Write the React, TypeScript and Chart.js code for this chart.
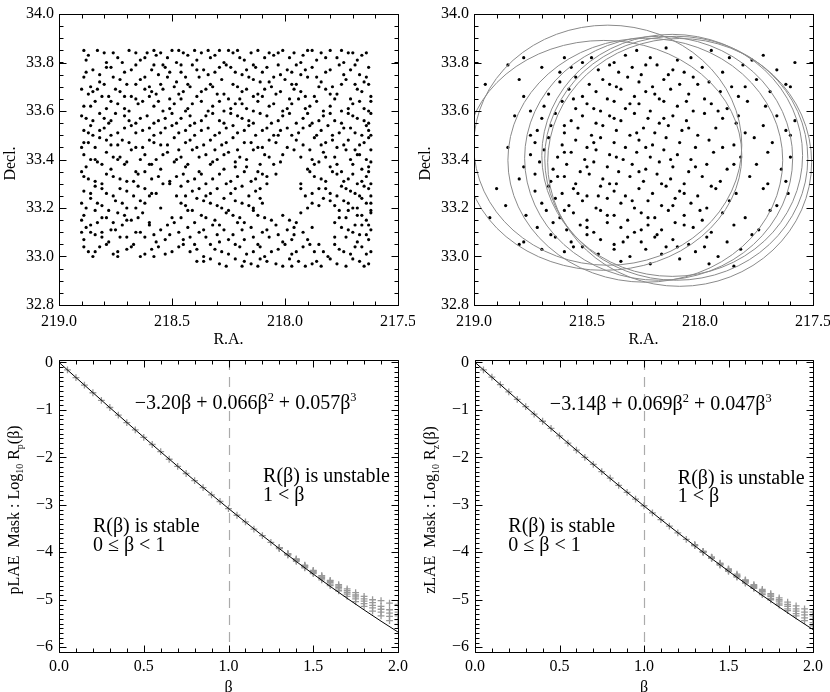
import React, { useEffect, useRef } from "react";
import { Chart, registerables } from "chart.js";
Chart.register(...registerables);

const SERIF = '"Liberation Serif", "Times New Roman", Times, serif';

// ---------- tick labels ----------
const raTicks = [219.0, 218.5, 218.0, 217.5];
const decTicks = [32.8, 33.0, 33.2, 33.4, 33.6, 33.8, 34.0];
const betaTicks = [0, 0.5, 1.0, 1.5, 2.0];
const logTicks = [-6, -5, -4, -3, -2, -1, 0];

// ---------- top-left: all sources (R.A., Decl.) pairs ----------
const fieldSources = [
  218.89,33.85, 218.80,33.84, 218.76,33.84, 218.69,33.85, 218.61,33.84, 218.58,33.85, 218.55,33.84, 218.50,33.85, 218.47,33.85, 218.45,33.84, 218.40,33.85, 218.37,33.84, 218.29,33.85, 218.23,33.84, 218.21,33.85, 218.15,33.84, 218.07,33.84, 218.01,33.85, 217.96,33.84, 217.90,33.85, 217.84,33.84, 217.80,33.85, 217.72,33.84, 217.70,33.84,
  218.88,33.81, 218.62,33.82, 218.48,33.80, 218.33,33.82, 218.18,33.81, 218.05,33.83, 217.93,33.80, 217.77,33.82, 217.66,33.83, 218.72,33.80, 218.26,33.79, 217.86,33.81,
  218.85,33.77, 218.79,33.78, 218.71,33.76, 218.66,33.79, 218.59,33.77, 218.53,33.78, 218.46,33.76, 218.41,33.79, 218.36,33.77, 218.31,33.76, 218.24,33.78, 218.19,33.75, 218.13,33.78, 218.10,33.76, 218.03,33.79, 217.99,33.77, 217.93,33.75, 217.88,33.78, 217.82,33.76, 217.76,33.79, 217.71,33.77, 217.67,33.75, 217.63,33.78, 218.56,33.75, 218.27,33.80, 217.95,33.79,
  218.89,33.74, 218.82,33.72, 218.76,33.74, 218.70,33.71, 218.64,33.73, 218.60,33.70, 218.52,33.74, 218.48,33.72, 218.42,33.70, 218.38,33.74, 218.33,33.71, 218.28,33.73, 218.21,33.70, 218.16,33.74, 218.11,33.72, 218.06,33.70, 218.00,33.73, 217.95,33.71, 217.90,33.74, 217.84,33.72, 217.79,33.70, 217.73,33.73, 217.69,33.71, 217.64,33.74, 218.86,33.70, 218.55,33.71, 218.02,33.75,
  218.87,33.67, 218.83,33.69, 218.78,33.66, 218.73,33.68, 218.68,33.66, 218.62,33.69, 218.57,33.67, 218.51,33.65, 218.45,33.68, 218.39,33.66, 218.35,33.69, 218.30,33.67, 218.25,33.65, 218.19,33.68, 218.14,33.66, 218.09,33.69, 218.04,33.67, 217.98,33.65, 217.93,33.68, 217.87,33.66, 217.82,33.69, 217.77,33.67, 217.71,33.65, 217.66,33.68, 217.62,33.66, 218.49,33.70, 217.96,33.69,
  218.89,33.62, 218.84,33.64, 218.79,33.61, 218.74,33.63, 218.69,33.60, 218.63,33.64, 218.58,33.62, 218.54,33.60, 218.49,33.63, 218.43,33.61, 218.37,33.64, 218.32,33.62, 218.27,33.60, 218.22,33.63, 218.17,33.61, 218.12,33.64, 218.07,33.62, 218.01,33.60, 217.97,33.63, 217.91,33.61, 217.86,33.64, 217.80,33.62, 217.75,33.60, 217.70,33.63, 217.65,33.61, 217.62,33.64, 218.66,33.65, 218.20,33.65,
  218.88,33.57, 218.82,33.59, 218.77,33.56, 218.71,33.58, 218.66,33.55, 218.61,33.58, 218.56,33.56, 218.50,33.59, 218.46,33.57, 218.40,33.55, 218.35,33.58, 218.29,33.56, 218.24,33.59, 218.19,33.57, 218.14,33.55, 218.08,33.58, 218.03,33.56, 217.98,33.59, 217.92,33.57, 217.88,33.55, 217.83,33.58, 217.78,33.56, 217.72,33.59, 217.68,33.57, 217.63,33.55, 218.86,33.54, 218.44,33.60,
  218.89,33.52, 218.85,33.50, 218.80,33.53, 218.74,33.51, 218.68,33.54, 218.63,33.52, 218.58,33.50, 218.53,33.53, 218.47,33.51, 218.42,33.54, 218.37,33.52, 218.31,33.50, 218.26,33.53, 218.21,33.51, 218.16,33.54, 218.10,33.52, 218.05,33.50, 217.99,33.53, 217.94,33.51, 217.89,33.54, 217.84,33.52, 217.79,33.50, 217.74,33.53, 217.69,33.51, 217.64,33.54, 217.62,33.50, 218.78,33.55,
  218.87,33.47, 218.82,33.49, 218.77,33.46, 218.72,33.48, 218.66,33.45, 218.60,33.48, 218.55,33.46, 218.49,33.49, 218.44,33.47, 218.39,33.45, 218.33,33.48, 218.28,33.46, 218.23,33.49, 218.18,33.47, 218.12,33.45, 218.07,33.48, 217.92,33.46, 217.87,33.49, 217.82,33.47, 217.77,33.45, 217.72,33.48, 217.67,33.46, 217.63,33.49, 218.03,33.50, 218.90,33.45,
  218.89,33.42, 218.84,33.40, 218.79,33.43, 218.73,33.41, 218.68,33.44, 218.62,33.42, 218.57,33.40, 218.52,33.43, 218.46,33.41, 218.41,33.44, 218.35,33.42, 218.30,33.40, 218.25,33.43, 218.20,33.41, 218.14,33.44, 218.09,33.42, 217.88,33.40, 217.83,33.43, 217.78,33.41, 217.73,33.44, 217.68,33.42, 217.64,33.40, 217.62,33.44, 217.96,33.44,
  218.88,33.37, 218.83,33.39, 218.77,33.36, 218.71,33.38, 218.66,33.35, 218.60,33.38, 218.55,33.36, 218.49,33.39, 218.44,33.37, 218.38,33.35, 218.33,33.38, 218.27,33.36, 218.22,33.39, 218.17,33.37, 218.12,33.35, 218.05,33.38, 217.90,33.36, 217.85,33.39, 217.80,33.37, 217.75,33.35, 217.70,33.38, 217.66,33.36, 217.62,33.39, 218.74,33.40,
  218.87,33.32, 218.81,33.30, 218.76,33.33, 218.70,33.31, 218.65,33.34, 218.59,33.32, 218.54,33.30, 218.48,33.33, 218.43,33.31, 218.37,33.34, 218.32,33.32, 218.26,33.30, 218.21,33.33, 218.15,33.31, 218.10,33.34, 217.93,33.30, 217.87,33.33, 217.82,33.31, 217.77,33.34, 217.72,33.32, 217.68,33.30, 217.64,33.33, 217.62,33.30, 218.04,33.34, 218.90,33.35,
  218.89,33.27, 218.84,33.29, 218.79,33.26, 218.73,33.28, 218.67,33.25, 218.62,33.28, 218.57,33.26, 218.46,33.29, 218.41,33.27, 218.35,33.25, 218.30,33.28, 218.24,33.26, 218.19,33.29, 218.13,33.27, 217.91,33.25, 217.85,33.28, 217.80,33.26, 217.75,33.29, 217.71,33.27, 217.67,33.25, 217.63,33.28, 218.51,33.30, 218.08,33.30,
  218.90,33.22, 218.86,33.24, 218.81,33.21, 218.75,33.23, 218.70,33.20, 218.64,33.23, 218.44,33.21, 218.39,33.24, 218.33,33.22, 218.28,33.20, 218.22,33.23, 218.16,33.21, 218.11,33.24, 217.88,33.22, 217.83,33.24, 217.78,33.21, 217.74,33.23, 217.70,33.20, 217.66,33.24, 217.62,33.22, 218.60,33.25, 218.48,33.25,
  218.89,33.17, 218.84,33.19, 218.79,33.16, 218.74,33.18, 218.68,33.15, 218.63,33.18, 218.50,33.16, 218.43,33.19, 218.37,33.17, 218.31,33.15, 218.26,33.18, 218.20,33.16, 218.14,33.19, 218.09,33.16, 217.93,33.18, 217.76,33.16, 217.72,33.19, 217.68,33.17, 217.64,33.15, 217.62,33.18, 218.55,33.20, 217.98,33.15,
  218.88,33.12, 218.83,33.14, 218.77,33.11, 218.72,33.13, 218.66,33.10, 218.60,33.13, 218.55,33.11, 218.49,33.14, 218.43,33.12, 218.38,33.10, 218.32,33.13, 218.27,33.11, 218.21,33.14, 218.15,33.12, 218.10,33.10, 218.04,33.13, 217.99,33.11, 217.95,33.14, 217.75,33.12, 217.70,33.10, 217.66,33.13, 217.62,33.11, 218.70,33.15, 218.90,33.10,
  218.89,33.07, 218.84,33.09, 218.78,33.06, 218.73,33.08, 218.67,33.05, 218.62,33.08, 218.57,33.06, 218.51,33.09, 218.45,33.07, 218.40,33.05, 218.35,33.08, 218.29,33.06, 218.23,33.09, 218.18,33.07, 218.12,33.05, 218.07,33.08, 218.01,33.06, 217.96,33.09, 217.90,33.07, 217.85,33.05, 217.73,33.08, 217.68,33.06, 217.64,33.09, 218.81,33.10,
  218.87,33.02, 218.82,33.04, 218.76,33.01, 218.70,33.03, 218.64,33.00, 218.59,33.03, 218.53,33.01, 218.47,33.04, 218.42,33.02, 218.36,33.00, 218.31,33.03, 218.25,33.01, 218.20,33.04, 218.14,33.02, 218.09,33.00, 218.03,33.03, 217.97,33.01, 217.92,33.04, 217.87,33.02, 217.81,33.00, 217.76,33.03, 217.71,33.01, 217.66,33.04, 217.62,33.02,
  218.36,32.98, 218.29,32.97, 218.22,32.99, 218.15,32.97, 218.08,32.98, 218.01,32.96, 217.94,32.98, 217.88,32.97, 217.80,32.99, 217.73,32.96, 217.67,32.98, 217.63,32.97, 218.12,32.96, 217.84,32.96,
  // second pass
  218.87,33.83, 218.83,33.85, 218.74,33.82, 218.66,33.84, 218.64,33.81, 218.57,33.83, 218.52,33.82, 218.43,33.83, 218.39,33.81, 218.34,33.85, 218.31,33.83, 218.25,33.85, 218.20,33.82, 218.12,33.85, 218.09,33.82, 218.03,33.84, 217.98,33.82, 217.92,33.83, 217.88,33.85, 217.82,33.82, 217.75,33.85, 217.68,33.81, 217.64,33.84, 218.79,33.80, 218.54,33.79, 218.14,33.79, 217.74,33.80,
  218.88,33.76, 218.82,33.75, 218.77,33.78, 218.73,33.73, 218.68,33.77, 218.62,33.74, 218.58,33.79, 218.51,33.76, 218.44,33.74, 218.39,33.77, 218.34,33.75, 218.29,33.78, 218.22,33.76, 218.17,33.77, 218.14,33.73, 218.08,33.78, 218.05,33.74, 217.97,33.76, 217.91,33.77, 217.86,33.74, 217.80,33.77, 217.74,33.75, 217.69,33.79, 217.65,33.72, 218.46,33.79,
  218.85,33.68, 218.80,33.71, 218.75,33.69, 218.71,33.66, 218.66,33.71, 218.59,33.68, 218.54,33.69, 218.47,33.67, 218.43,33.71, 218.37,33.68, 218.32,33.70, 218.27,33.67, 218.23,33.71, 218.17,33.69, 218.12,33.67, 218.07,33.72, 218.02,33.68, 217.97,33.71, 217.91,33.66, 217.85,33.70, 217.80,33.67, 217.75,33.71, 217.68,33.69, 217.63,33.71, 218.90,33.69,
  218.86,33.62, 218.81,33.66, 218.77,33.64, 218.71,33.61, 218.65,33.63, 218.60,33.66, 218.56,33.64, 218.51,33.61, 218.46,33.65, 218.41,33.63, 218.34,33.60, 218.29,33.64, 218.24,33.61, 218.19,33.63, 218.14,33.60, 218.10,33.66, 218.05,33.63, 217.99,33.61, 217.94,33.65, 217.89,33.62, 217.83,33.60, 217.78,33.65, 217.72,33.61, 217.67,33.64, 217.63,33.60,
  218.90,33.58, 218.85,33.56, 218.80,33.57, 218.75,33.59, 218.69,33.56, 218.64,33.57, 218.58,33.55, 218.53,33.57, 218.48,33.55, 218.42,33.58, 218.37,33.56, 218.32,33.59, 218.27,33.55, 218.21,33.58, 218.16,33.56, 218.11,33.59, 218.06,33.55, 218.01,33.58, 217.95,33.55, 217.90,33.59, 217.85,33.56, 217.80,33.59, 217.75,33.55, 217.70,33.58, 217.65,33.56, 217.62,33.59,
  218.87,33.51, 218.82,33.52, 218.77,33.50, 218.71,33.53, 218.66,33.51, 218.60,33.53, 218.55,33.51, 218.50,33.54, 218.44,33.52, 218.40,33.50, 218.34,33.53, 218.29,33.51, 218.23,33.54, 218.18,33.52, 218.13,33.50, 218.08,33.53, 218.02,33.52, 217.97,33.50, 217.92,33.53, 217.86,33.50, 217.81,33.54, 217.76,33.51, 217.71,33.53, 217.66,33.50, 217.63,33.52,
  218.89,33.47, 218.84,33.45, 218.79,33.48, 218.74,33.46, 218.69,33.47, 218.63,33.45, 218.58,33.47, 218.52,33.46, 218.47,33.44, 218.42,33.48, 218.36,33.46, 218.31,33.44, 218.26,33.47, 218.21,33.44, 218.15,33.47, 218.10,33.45, 218.04,33.47, 217.99,33.45, 217.95,33.48, 217.89,33.44, 217.84,33.46, 217.79,33.48, 217.74,33.46, 217.69,33.44, 217.65,33.47, 218.01,33.42,
  218.86,33.40, 218.81,33.38, 218.76,33.41, 218.70,33.39, 218.64,33.40, 218.59,33.38, 218.54,33.42, 218.48,33.40, 218.43,33.38, 218.38,33.41, 218.32,33.39, 218.27,33.42, 218.22,33.37, 218.17,33.40, 218.11,33.38, 218.07,33.41, 218.02,33.39, 217.93,33.41, 217.87,33.38, 217.82,33.41, 217.77,33.38, 217.71,33.40, 217.67,33.42, 217.63,33.37,
  218.89,33.33, 218.84,33.31, 218.79,33.34, 218.73,33.32, 218.67,33.31, 218.62,33.35, 218.56,33.33, 218.51,33.31, 218.45,33.34, 218.40,33.32, 218.35,33.30, 218.29,33.34, 218.24,33.31, 218.18,33.35, 218.13,33.32, 218.08,33.33, 217.89,33.35, 217.84,33.32, 217.79,33.35, 217.74,33.31, 217.70,33.34, 217.66,33.31, 217.63,33.35,
  218.86,33.26, 218.81,33.28, 218.76,33.25, 218.70,33.27, 218.65,33.29, 218.59,33.26, 218.44,33.25, 218.38,33.28, 218.33,33.26, 218.27,33.24, 218.22,33.28, 218.16,33.25, 218.11,33.28, 217.93,33.28, 217.88,33.26, 217.82,33.28, 217.77,33.25, 217.73,33.28, 217.69,33.26, 217.65,33.29, 217.62,33.25,
  218.88,33.20, 218.83,33.22, 218.78,33.19, 218.72,33.22, 218.66,33.20, 218.62,33.22, 218.46,33.22, 218.41,33.19, 218.36,33.23, 218.30,33.21, 218.25,33.19, 218.19,33.22, 218.14,33.20, 218.10,33.22, 217.90,33.20, 217.85,33.21, 217.80,33.23, 217.76,33.19, 217.72,33.22, 217.68,33.20, 217.64,33.22, 217.62,33.19,
  218.90,33.15, 218.86,33.13, 218.81,33.16, 218.76,33.14, 218.71,33.17, 218.65,33.16, 218.60,33.14, 218.52,33.13, 218.46,33.16, 218.40,33.14, 218.35,33.16, 218.29,33.13, 218.23,33.17, 218.18,33.14, 218.12,33.17, 218.06,33.15, 218.01,33.17, 217.96,33.12, 217.78,33.14, 217.73,33.16, 217.69,33.13, 217.66,33.17, 217.63,33.13,
  218.86,33.10, 218.81,33.08, 218.75,33.11, 218.70,33.08, 218.64,33.10, 218.58,33.09, 218.53,33.07, 218.47,33.10, 218.42,33.08, 218.36,33.11, 218.30,33.09, 218.25,33.07, 218.19,33.11, 218.14,33.08, 218.08,33.11, 218.03,33.09, 217.97,33.07, 217.92,33.10, 217.88,33.12, 217.78,33.08, 217.72,33.11, 217.67,33.09, 217.63,33.07,
  218.89,33.04, 218.84,33.02, 218.79,33.05, 218.74,33.02, 218.68,33.04, 218.62,33.01, 218.56,33.04, 218.50,33.02, 218.45,33.05, 218.39,33.03, 218.33,33.05, 218.28,33.02, 218.22,33.05, 218.17,33.01, 218.11,33.04, 218.06,33.02, 218.00,33.05, 217.95,33.02, 217.89,33.05, 217.83,33.02, 217.78,33.05, 217.74,33.02, 217.69,33.04, 217.64,33.01, 218.85,33.00, 218.74,33.00, 218.58,33.00,
  218.33,32.99, 218.26,32.96, 218.18,32.98, 218.11,32.99, 218.04,32.97, 217.98,32.99, 217.91,32.96, 217.86,32.98, 217.77,32.97, 217.70,32.99, 217.65,32.96, 218.19,32.96, 217.97,32.96, 218.39,32.98,
];

// ---------- top-right: masked sources (R.A., Decl.) pairs ----------
const maskSources = [
  218.33,33.83, 218.28,33.85, 218.22,33.82, 218.15,33.86, 218.10,33.81, 218.60,33.82, 218.52,33.80, 218.04,33.82, 217.95,33.85, 217.77,33.81, 217.72,33.83, 218.78,33.82, 218.85,33.79, 217.58,33.80,
  218.45,33.77, 218.40,33.79, 218.36,33.76, 218.30,33.78, 218.26,33.75, 218.19,33.79, 218.12,33.77, 218.07,33.76, 217.99,33.78, 217.90,33.76, 217.81,33.79, 218.62,33.76, 218.70,33.78, 217.66,33.77,
  218.62,33.72, 218.55,33.74, 218.49,33.71, 218.43,33.73, 218.37,33.70, 218.32,33.74, 218.27,33.72, 218.21,33.70, 218.16,33.73, 218.09,33.71, 218.03,33.74, 217.96,33.72, 217.86,33.70, 217.75,33.73, 218.95,33.71, 218.80,33.73, 217.62,33.71,
  218.67,33.67, 218.58,33.69, 218.52,33.66, 218.46,33.68, 218.41,33.65, 218.35,33.69, 218.29,33.66, 218.24,33.68, 218.18,33.65, 218.13,33.69, 218.05,33.67, 217.98,33.65, 217.91,33.68, 217.83,33.66, 217.69,33.68, 218.78,33.66, 217.60,33.70,
  218.69,33.62, 218.61,33.64, 218.55,33.61, 218.50,33.63, 218.44,33.60, 218.38,33.64, 218.33,33.61, 218.27,33.63, 218.22,33.60, 218.16,33.64, 218.10,33.62, 218.03,33.60, 217.95,33.63, 217.88,33.61, 217.79,33.64, 217.71,33.62, 218.75,33.60,
  218.70,33.57, 218.64,33.59, 218.57,33.56, 218.52,33.58, 218.46,33.55, 218.40,33.58, 218.35,33.56, 218.29,33.59, 218.23,33.57, 218.18,33.55, 218.12,33.58, 218.06,33.56, 217.98,33.59, 217.90,33.57, 217.84,33.55, 217.66,33.58, 217.58,33.56, 218.82,33.58,
  218.72,33.52, 218.66,33.54, 218.60,33.51, 218.54,33.53, 218.48,33.50, 218.43,33.54, 218.37,33.52, 218.31,33.50, 218.25,33.53, 218.20,33.51, 218.14,33.54, 218.08,33.52, 218.01,33.50, 217.93,33.53, 217.80,33.51, 217.72,33.54, 217.62,33.52,
  218.73,33.47, 218.67,33.49, 218.61,33.46, 218.55,33.48, 218.50,33.45, 218.44,33.49, 218.38,33.47, 218.33,33.45, 218.27,33.48, 218.21,33.46, 218.15,33.49, 218.09,33.47, 218.02,33.45, 217.96,33.48, 217.85,33.46, 217.76,33.49, 217.68,33.47,
  218.75,33.42, 218.69,33.44, 218.63,33.41, 218.57,33.43, 218.51,33.40, 218.46,33.44, 218.40,33.42, 218.34,33.40, 218.28,33.43, 218.22,33.41, 218.16,33.44, 218.10,33.42, 218.04,33.40, 217.94,33.43, 217.82,33.41, 217.70,33.43, 217.60,33.41,
  218.78,33.37, 218.71,33.39, 218.65,33.36, 218.59,33.38, 218.53,33.35, 218.47,33.39, 218.41,33.37, 218.36,33.35, 218.30,33.38, 218.24,33.36, 218.18,33.39, 218.12,33.37, 218.05,33.35, 217.97,33.38, 217.88,33.36, 217.75,33.38, 217.64,33.36,
  218.80,33.32, 218.73,33.34, 218.66,33.31, 218.60,33.33, 218.55,33.30, 218.49,33.34, 218.43,33.32, 218.37,33.30, 218.31,33.33, 218.25,33.31, 218.19,33.34, 218.13,33.32, 218.07,33.30, 217.99,33.33, 217.91,33.31, 217.78,33.33, 217.62,33.31,
  218.73,33.27, 218.67,33.29, 218.61,33.26, 218.56,33.28, 218.50,33.25, 218.44,33.29, 218.38,33.27, 218.33,33.25, 218.27,33.28, 218.21,33.26, 218.15,33.29, 218.09,33.27, 218.01,33.25, 217.93,33.28, 217.84,33.26, 217.72,33.28, 217.61,33.26,
  218.86,33.21, 218.70,33.22, 218.64,33.24, 218.58,33.21, 218.52,33.23, 218.46,33.20, 218.41,33.24, 218.35,33.22, 218.29,33.20, 218.23,33.23, 218.17,33.21, 218.11,33.24, 218.04,33.22, 217.97,33.20, 217.87,33.23, 217.66,33.21,
  218.93,33.16, 218.77,33.17, 218.68,33.19, 218.62,33.16, 218.56,33.18, 218.50,33.15, 218.44,33.19, 218.38,33.17, 218.32,33.15, 218.26,33.18, 218.20,33.16, 218.14,33.19, 218.07,33.17, 217.99,33.15, 217.90,33.18, 217.80,33.16, 217.69,33.19,
  218.72,33.12, 218.65,33.14, 218.59,33.11, 218.53,33.13, 218.47,33.10, 218.41,33.14, 218.35,33.12, 218.29,33.10, 218.23,33.13, 218.17,33.11, 218.11,33.14, 218.03,33.12, 217.95,33.10, 217.85,33.13, 217.74,33.11,
  218.80,33.05, 218.78,33.06, 218.64,33.08, 218.57,33.06, 218.50,33.09, 218.44,33.07, 218.38,33.05, 218.32,33.08, 218.26,33.06, 218.19,33.09, 218.12,33.07, 218.05,33.05, 217.97,33.08, 217.88,33.06, 217.77,33.09,
  218.60,33.02, 218.52,33.04, 218.45,33.01, 218.38,33.03, 218.31,33.00, 218.24,33.03, 218.17,33.01, 218.10,33.04, 218.02,33.02, 217.92,33.00, 217.82,33.03, 218.70,33.03,
  218.35,32.98, 218.22,32.97, 218.09,32.99, 217.96,32.97, 217.85,32.96,
  // second pass
  218.48,33.82, 218.38,33.80, 218.24,33.79, 217.87,33.82, 218.57,33.78, 218.14,33.75, 218.01,33.71, 218.40,33.71, 218.20,33.67, 218.56,33.65, 218.31,33.63, 218.06,33.64, 218.47,33.61, 217.92,33.60, 218.38,33.57, 218.16,33.57, 218.60,33.54, 218.28,33.51, 218.05,33.53, 218.47,33.47, 218.24,33.45, 218.60,33.43, 218.37,33.41, 218.13,33.40, 217.90,33.45, 218.50,33.37, 218.27,33.35, 218.02,33.37, 218.63,33.33, 218.40,33.30, 218.17,33.30, 217.95,33.29, 218.54,33.26, 218.30,33.23, 218.07,33.26, 218.60,33.19, 218.41,33.17, 218.23,33.16, 218.00,33.19, 218.50,33.12, 218.26,33.11, 218.07,33.13, 218.56,33.04, 218.34,33.06, 218.15,33.04, 217.98,33.04, 218.66,33.09, 218.20,33.08, 218.45,33.25, 218.12,33.21, 217.85,33.38, 217.83,33.58, 217.80,33.70, 218.75,33.50, 218.85,33.45, 218.90,33.28, 217.70,33.30, 217.60,33.50,
];

// mask circles: [R.A. centre, Decl. centre, R.A. radius, Decl. radius]
const maskCircles = [
  [218.408, 33.459, 0.593, 0.495],
  [218.426, 33.417, 0.611, 0.474],
  [218.242, 33.397, 0.608, 0.503],
  [218.183, 33.405, 0.593, 0.503],
  [218.123, 33.417, 0.577, 0.499],
  [218.105, 33.405, 0.582, 0.503],
  [218.090, 33.388, 0.584, 0.511],
];

// ---------- bottom panels ----------
const betaGrid = [0, 0.05, 0.1, 0.15, 0.2, 0.25, 0.3, 0.35, 0.4, 0.45, 0.5, 0.55, 0.6, 0.65, 0.7, 0.75, 0.8, 0.85, 0.9, 0.95, 1.0, 1.05, 1.1, 1.15, 1.2, 1.25, 1.3, 1.35, 1.4, 1.45, 1.5, 1.55, 1.6, 1.65, 1.7, 1.75, 1.8, 1.85, 1.9, 1.95, 2.0];
const betaTail = [1.3, 1.35, 1.4, 1.45, 1.5, 1.55, 1.6, 1.65, 1.7, 1.75, 1.8, 1.85, 1.9, 1.95, 2.0];
const betaFit = [0, 0.1, 0.2, 0.3, 0.4, 0.5, 0.6, 0.7, 0.8, 0.9, 1.0, 1.1, 1.2, 1.3, 1.4, 1.5, 1.6, 1.7, 1.8, 1.9, 2.0];

const pFit = [0, -0.319, -0.637, -0.953, -1.266, -1.576, -1.884, -2.188, -2.489, -2.785, -3.077, -3.364, -3.647, -3.923, -4.194, -4.459, -4.718, -4.969, -5.214, -5.451, -5.680];
const pRun1 = [0, -0.16, -0.32, -0.48, -0.64, -0.80, -0.95, -1.11, -1.27, -1.42, -1.58, -1.73, -1.88, -2.04, -2.19, -2.34, -2.49, -2.64, -2.79, -2.93, -3.08, -3.22, -3.36, -3.51, -3.65, -3.79, -3.92, -4.06, -4.19, -4.33, -4.45, -4.58, -4.70, -4.81, -4.93, -5.04, -5.14, -5.24, -5.34, -5.44, -5.52];
const pRun2 = [-3.91, -4.05, -4.17, -4.31, -4.43, -4.55, -4.67, -4.77, -4.88, -4.98, -5.08, -5.17, -5.26, -5.35, -5.42];
const pRun3 = [-3.91, -4.04, -4.16, -4.29, -4.41, -4.53, -4.64, -4.74, -4.85, -4.94, -5.03, -5.12, -5.20, -5.28, -5.34];
const pRun4 = [-3.90, -4.03, -4.15, -4.28, -4.39, -4.50, -4.61, -4.71, -4.81, -4.90, -4.98, -5.06, -5.14, -5.21, -5.26];
const pRun5 = [-3.90, -4.03, -4.14, -4.27, -4.38, -4.49, -4.59, -4.68, -4.77, -4.85, -4.93, -5.00, -5.02, -5.07, -5.10];

const zFit = [0, -0.313, -0.625, -0.935, -1.242, -1.547, -1.849, -2.148, -2.444, -2.736, -3.024, -3.308, -3.587, -3.862, -4.132, -4.396, -4.655, -4.908, -5.154, -5.395, -5.628];
const zRun1 = [0, -0.16, -0.31, -0.47, -0.62, -0.78, -0.93, -1.09, -1.24, -1.39, -1.55, -1.70, -1.85, -2.00, -2.15, -2.30, -2.44, -2.59, -2.74, -2.88, -3.02, -3.17, -3.31, -3.45, -3.59, -3.73, -3.86, -4.00, -4.13, -4.27, -4.40, -4.52, -4.65, -4.76, -4.89, -5.00, -5.11, -5.23, -5.34, -5.44, -5.55];
const zRun2 = [-3.86, -3.99, -4.12, -4.26, -4.38, -4.51, -4.63, -4.74, -4.86, -4.97, -5.07, -5.19, -5.29, -5.38, -5.48];
const zRun3 = [-3.85, -3.99, -4.11, -4.25, -4.37, -4.49, -4.61, -4.72, -4.83, -4.93, -5.03, -5.14, -5.24, -5.32, -5.41];
const zRun4 = [-3.85, -3.98, -4.11, -4.24, -4.36, -4.48, -4.59, -4.70, -4.81, -4.90, -5.00, -5.10, -5.19, -5.26, -5.34];
const zRun5 = [-3.84, -3.98, -4.10, -4.23, -4.35, -4.46, -4.58, -4.68, -4.78, -4.87, -4.96, -5.05, -5.13, -5.19, -5.26];

const stableBeta = 1.0;

// ---------- helpers ----------
type Seg = { t: string; k?: "sub" | "sup" };

const pairs = (a: number[]) => {
  const out: { x: number; y: number }[] = [];
  for (let i = 0; i + 1 < a.length; i += 2) out.push({ x: a[i], y: a[i + 1] });
  return out;
};
const zip = (xs: number[], ys: number[]) => ys.map((y, i) => ({ x: xs[i], y }));

function drawRich(ctx: CanvasRenderingContext2D, segs: Seg[], x: number, y: number, size: number, align: "left" | "center", rotated: boolean) {
  ctx.save();
  ctx.translate(x, y);
  if (rotated) ctx.rotate(-Math.PI / 2);
  const sizes = segs.map((s) => (s.k ? size * 0.62 : size));
  const widths = segs.map((s, i) => {
    ctx.font = `${sizes[i]}px ${SERIF}`;
    return ctx.measureText(s.t).width;
  });
  const total = widths.reduce((a, b) => a + b, 0);
  let cx = align === "center" ? -total / 2 : 0;
  ctx.fillStyle = "#000";
  ctx.textAlign = "left";
  ctx.textBaseline = "alphabetic";
  const base = size * 0.34;
  segs.forEach((s, i) => {
    ctx.font = `${sizes[i]}px ${SERIF}`;
    const dy = s.k === "sub" ? size * 0.22 : s.k === "sup" ? -size * 0.4 : 0;
    ctx.fillText(s.t, cx, base + dy);
    cx += widths[i];
  });
  ctx.restore();
}

function minorValues(min: number, max: number, step: number) {
  const out: number[] = [];
  for (let i = Math.ceil(min / step - 1e-6); i * step <= max + 1e-6; i++) out.push(i * step);
  return out;
}

const fmt1 = (v: number) => v.toFixed(1);
const fmtLog = (v: number) => (Math.abs(v) < 1e-9 ? "0" : "\u2212" + Math.abs(v).toFixed(0));

type Spec = {
  datasets: any[];
  x: { min: number; max: number; reverse?: boolean; ticks: number[]; minor: number; fmt: (v: number) => string; pad: number };
  y: { min: number; max: number; ticks: number[]; minor: number; fmt: (v: number) => string; pad: number };
  padTop: number;
  xHeight: number;
  yWidth: number;
  xTitle: Seg[];
  xTitleDy: number;
  yTitle: Seg[];
  yTitleDx: number;
  circles?: number[][];
  dashX?: number;
  texts?: { segs: Seg[]; x: number; y: number }[];
};

const dots = (a: number[]) => ({
  type: "scatter",
  data: pairs(a),
  pointRadius: 1.6,
  pointHoverRadius: 1.6,
  pointBackgroundColor: "#000",
  pointBorderWidth: 0,
  showLine: false,
});
const crosses = (xs: number[], ys: number[]) => ({
  type: "scatter",
  data: zip(xs, ys),
  pointStyle: "cross",
  pointRadius: 3.4,
  pointHoverRadius: 3.4,
  pointBorderColor: "#999999",
  pointBackgroundColor: "#999999",
  pointBorderWidth: 1.3,
  showLine: false,
  order: 2,
});
const fitLine = (ys: number[]) => ({
  type: "line",
  data: zip(betaFit, ys),
  borderColor: "#000",
  borderWidth: 1,
  pointRadius: 0,
  cubicInterpolationMode: "monotone",
  fill: false,
  order: 1,
});

const skyAxes = {
  x: { min: 217.5, max: 219.0, reverse: true, ticks: raTicks, minor: 0.1, fmt: fmt1, pad: 7 },
  y: { min: 32.8, max: 34.0, ticks: decTicks, minor: 0.05, fmt: fmt1, pad: 5 },
};
const betaAxes = {
  x: { min: 0, max: 2, ticks: betaTicks, minor: 0.1, fmt: fmt1, pad: 5.5 },
  y: { min: -6.1, max: 0.05, ticks: logTicks, minor: 0.1, fmt: fmtLog, pad: 6 },
};

const specTL: Spec = {
  datasets: [dots(fieldSources)],
  ...skyAxes,
  padTop: 14, xHeight: 41, yWidth: 59,
  xTitle: [{ t: "R.A." }], xTitleDy: 34,
  yTitle: [{ t: "Decl." }], yTitleDx: 49,
};
const specTR: Spec = {
  datasets: [dots(maskSources)],
  ...skyAxes,
  padTop: 14, xHeight: 41, yWidth: 59,
  xTitle: [{ t: "R.A." }], xTitleDy: 34,
  yTitle: [{ t: "Decl." }], yTitleDx: 49,
  circles: maskCircles,
};
const specBL: Spec = {
  datasets: [
    fitLine(pFit),
    crosses(betaGrid, pRun1),
    crosses(betaTail, pRun2),
    crosses(betaTail, pRun3),
    crosses(betaTail, pRun4),
    crosses(betaTail, pRun5),
  ],
  ...betaAxes,
  padTop: 14, xHeight: 40, yWidth: 59,
  xTitle: [{ t: "β" }], xTitleDy: 35,
  yTitle: [{ t: "pLAE  Mask : Log" }, { t: "10", k: "sub" }, { t: " R" }, { t: "p", k: "sub" }, { t: "(β)" }],
  yTitleDx: 45,
  dashX: stableBeta,
  texts: [
    { segs: [{ t: "\u22123.20β + 0.066β" }, { t: "2", k: "sup" }, { t: " + 0.057β" }, { t: "3", k: "sup" }], x: 0.447, y: -0.84 },
    { segs: [{ t: "R(β) is unstable" }], x: 1.204, y: -2.38 },
    { segs: [{ t: "1 < β" }], x: 1.204, y: -2.77 },
    { segs: [{ t: "R(β) is stable" }], x: 0.2, y: -3.43 },
    { segs: [{ t: "0 ≤ β < 1" }], x: 0.2, y: -3.82 },
  ],
};
const specBR: Spec = {
  datasets: [
    fitLine(zFit),
    crosses(betaGrid, zRun1),
    crosses(betaTail, zRun2),
    crosses(betaTail, zRun3),
    crosses(betaTail, zRun4),
    crosses(betaTail, zRun5),
  ],
  ...betaAxes,
  padTop: 14, xHeight: 40, yWidth: 60,
  xTitle: [{ t: "β" }], xTitleDy: 35,
  yTitle: [{ t: "zLAE  Mask : Log" }, { t: "10", k: "sub" }, { t: " R" }, { t: "z", k: "sub" }, { t: "(β)" }],
  yTitleDx: 45,
  dashX: stableBeta,
  texts: [
    { segs: [{ t: "\u22123.14β + 0.069β" }, { t: "2", k: "sup" }, { t: " + 0.047β" }, { t: "3", k: "sup" }], x: 0.443, y: -0.86 },
    { segs: [{ t: "R(β) is unstable" }], x: 1.2, y: -2.41 },
    { segs: [{ t: "1 < β" }], x: 1.2, y: -2.8 },
    { segs: [{ t: "R(β) is stable" }], x: 0.197, y: -3.43 },
    { segs: [{ t: "0 ≤ β < 1" }], x: 0.197, y: -3.82 },
  ],
};

function makePlugin(spec: Spec) {
  return {
    id: "idlFrame",
    beforeDatasetsDraw(chart: any) {
      if (spec.dashX === undefined) return;
      const { ctx, chartArea: a } = chart;
      const px = Math.round(chart.scales.x.getPixelForValue(spec.dashX)) + 0.5;
      ctx.save();
      ctx.strokeStyle = "#ababab";
      ctx.lineWidth = 1.2;
      ctx.setLineDash([10, 7]);
      ctx.beginPath();
      ctx.moveTo(px, a.top);
      ctx.lineTo(px, a.bottom);
      ctx.stroke();
      ctx.restore();
    },
    afterDatasetsDraw(chart: any) {
      if (!spec.circles) return;
      const { ctx, chartArea: a } = chart;
      const xs = chart.scales.x, ys = chart.scales.y;
      ctx.save();
      ctx.beginPath();
      ctx.rect(a.left, a.top, a.right - a.left, a.bottom - a.top);
      ctx.clip();
      ctx.strokeStyle = "#8a8a8a";
      ctx.lineWidth = 1;
      for (const [ra, dec, rra, rdec] of spec.circles) {
        const cx = xs.getPixelForValue(ra), cy = ys.getPixelForValue(dec);
        const rx = Math.abs(xs.getPixelForValue(ra + rra) - cx);
        const ry = Math.abs(ys.getPixelForValue(dec + rdec) - cy);
        ctx.beginPath();
        ctx.ellipse(cx, cy, rx, ry, 0, 0, Math.PI * 2);
        ctx.stroke();
      }
      ctx.restore();
    },
    afterDraw(chart: any) {
      const { ctx, chartArea: a } = chart;
      const xs = chart.scales.x, ys = chart.scales.y;
      const L = Math.round(a.left) + 0.5, R = Math.round(a.right) + 0.5;
      const T = Math.round(a.top) + 0.5, B = Math.round(a.bottom) + 0.5;
      ctx.save();
      ctx.strokeStyle = "#000";
      ctx.lineWidth = 1;
      ctx.beginPath();
      ctx.rect(L, T, R - L, B - T);
      ctx.stroke();
      const xTick = (v: number, len: number) => {
        const p = Math.round(xs.getPixelForValue(v)) + 0.5;
        ctx.moveTo(p, B); ctx.lineTo(p, B - len);
        ctx.moveTo(p, T); ctx.lineTo(p, T + len);
      };
      const yTick = (v: number, len: number) => {
        const p = Math.round(ys.getPixelForValue(v)) + 0.5;
        ctx.moveTo(L, p); ctx.lineTo(L + len, p);
        ctx.moveTo(R, p); ctx.lineTo(R - len, p);
      };
      ctx.beginPath();
      minorValues(spec.x.min, spec.x.max, spec.x.minor).forEach((v) => xTick(v, 4));
      minorValues(spec.y.min, spec.y.max, spec.y.minor).forEach((v) => yTick(v, 4));
      spec.x.ticks.forEach((v) => xTick(v, 7));
      spec.y.ticks.forEach((v) => yTick(v, 7));
      ctx.stroke();
      ctx.restore();

      drawRich(ctx, spec.xTitle, (a.left + a.right) / 2, a.bottom + spec.xTitleDy, 16, "center", false);
      drawRich(ctx, spec.yTitle, a.left - spec.yTitleDx, (a.top + a.bottom) / 2 + 4, 16, "center", true);
      (spec.texts || []).forEach((t) => {
        drawRich(ctx, t.segs, xs.getPixelForValue(t.x), ys.getPixelForValue(t.y), 20, "left", false);
      });
    },
  };
}

function buildConfig(spec: Spec): any {
  const tickFont = { family: SERIF, size: 16 };
  return {
    type: "scatter",
    data: { datasets: spec.datasets },
    options: {
      animation: false,
      responsive: false,
      maintainAspectRatio: false,
      devicePixelRatio: 1,
      events: [],
      layout: { padding: { top: spec.padTop, right: 17, left: 0, bottom: 0 } },
      plugins: { legend: { display: false }, tooltip: { enabled: false } },
      scales: {
        x: {
          type: "linear",
          min: spec.x.min,
          max: spec.x.max,
          reverse: !!spec.x.reverse,
          grid: { display: false, drawTicks: false },
          border: { display: false },
          afterBuildTicks: (s: any) => { s.ticks = spec.x.ticks.map((value) => ({ value })); },
          afterFit: (s: any) => { s.height = spec.xHeight; s.paddingLeft = 0; s.paddingRight = 0; },
          ticks: { color: "#000", font: tickFont, padding: spec.x.pad, maxRotation: 0, minRotation: 0, autoSkip: false, callback: (v: any) => spec.x.fmt(Number(v)) },
        },
        y: {
          type: "linear",
          min: spec.y.min,
          max: spec.y.max,
          grid: { display: false, drawTicks: false },
          border: { display: false },
          afterBuildTicks: (s: any) => { s.ticks = spec.y.ticks.map((value) => ({ value })); },
          afterFit: (s: any) => { s.width = spec.yWidth; s.paddingTop = 0; s.paddingBottom = 0; },
          ticks: { color: "#000", font: tickFont, padding: spec.y.pad, autoSkip: false, callback: (v: any) => spec.y.fmt(Number(v)) },
        },
      },
    },
    plugins: [makePlugin(spec)],
  };
}

function Panel({ spec, left, top }: { spec: Spec; left: number; top: number }) {
  const ref = useRef<HTMLCanvasElement>(null);
  useEffect(() => {
    const canvas = ref.current;
    if (!canvas) return;
    const chart = new Chart(canvas, buildConfig(spec));
    return () => chart.destroy();
  }, [spec]);
  return (
    <canvas
      ref={ref}
      width={415}
      height={346}
      style={{ position: "absolute", left, top, width: 415, height: 346 }}
    />
  );
}

export default function App() {
  return (
    <div style={{ position: "absolute", left: 0, top: 0, width: 830, height: 692, background: "#fff", overflow: "hidden" }}>
      <Panel spec={specTL} left={0} top={0} />
      <Panel spec={specTR} left={415} top={0} />
      <Panel spec={specBL} left={0} top={346} />
      <Panel spec={specBR} left={415} top={346} />
    </div>
  );
}
